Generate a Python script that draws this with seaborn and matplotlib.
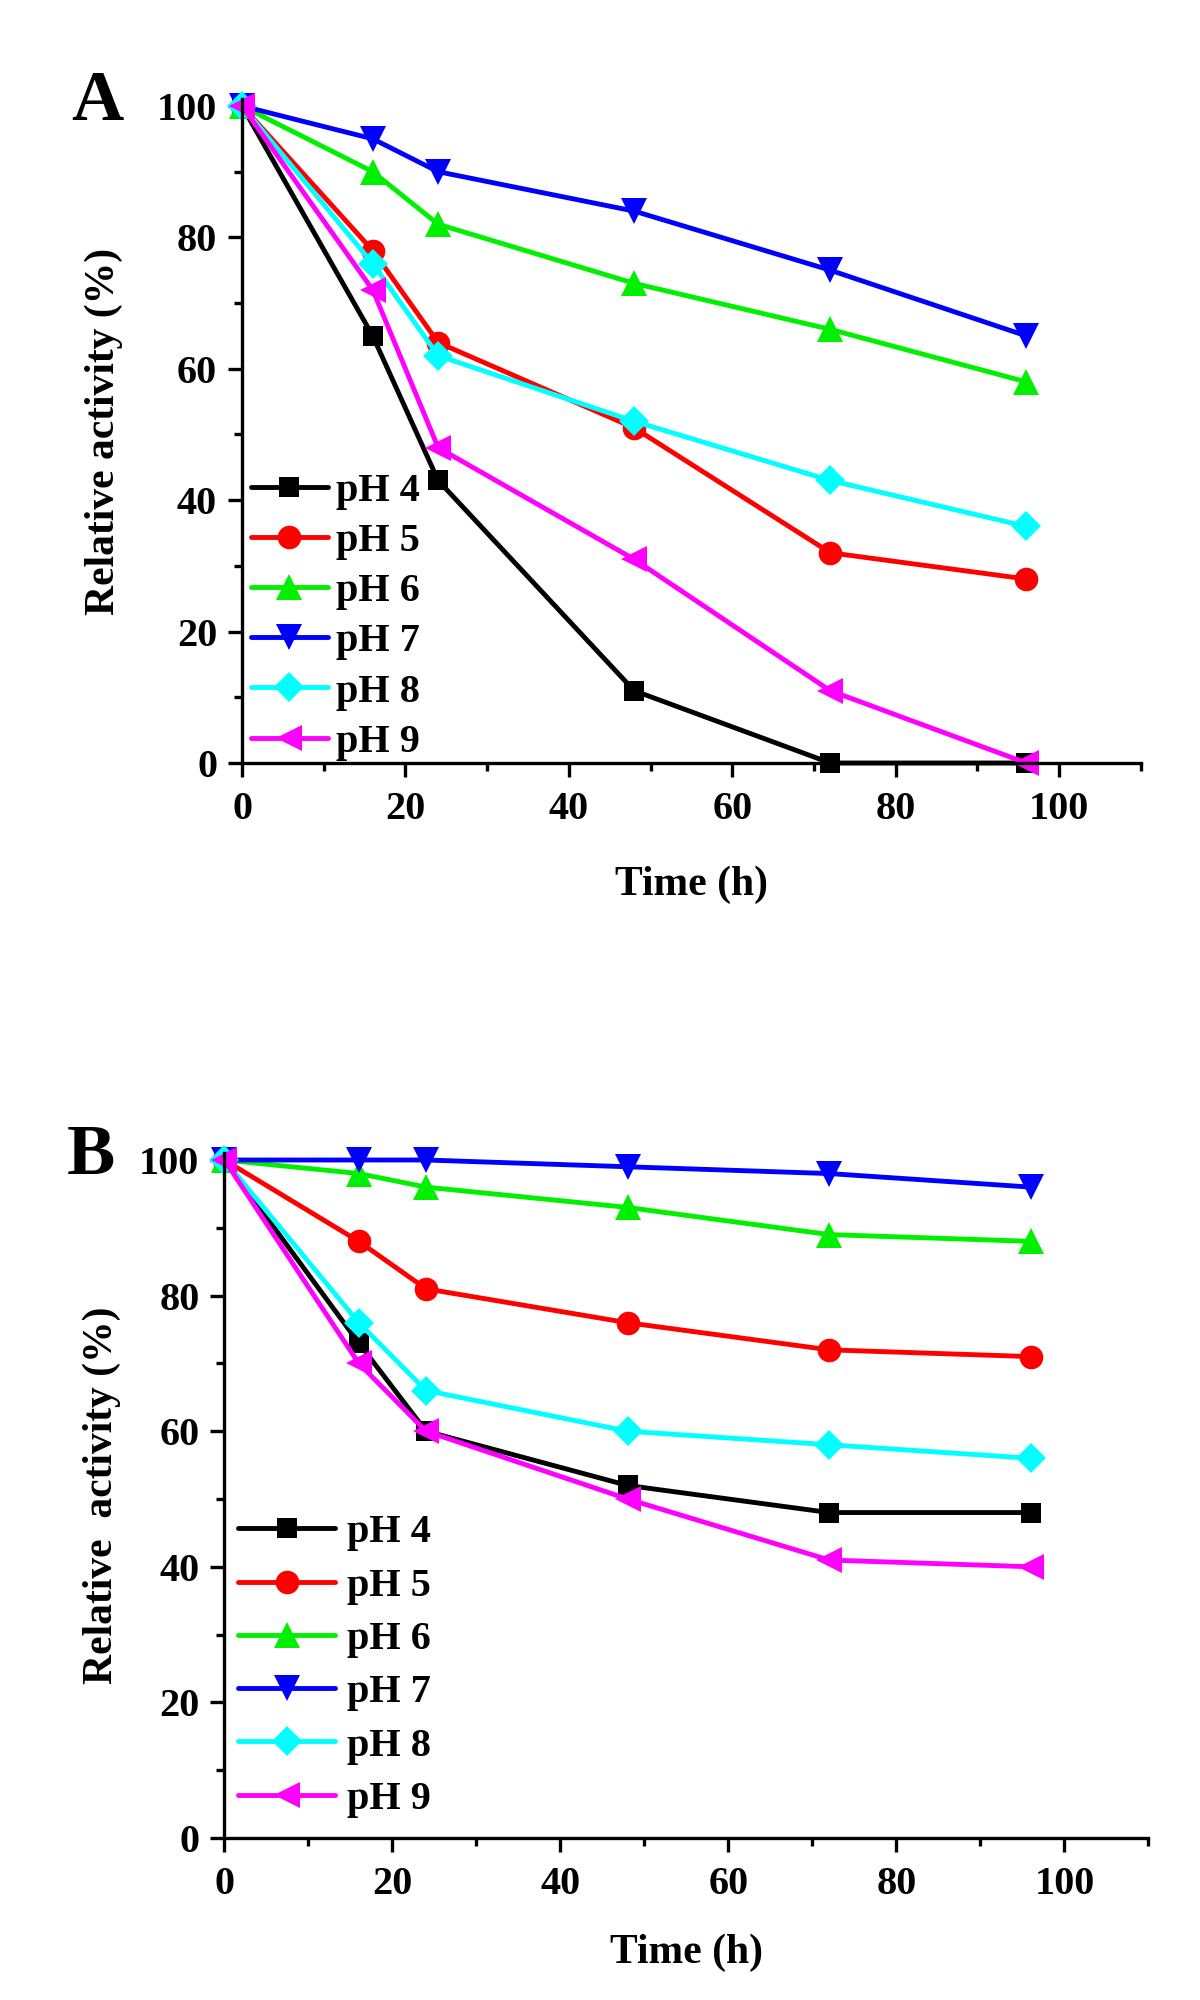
import numpy as np
import pandas as pd
import matplotlib
matplotlib.use("Agg")
import matplotlib.pyplot as plt
import seaborn as sns

# Temps d'incubation (h)
time_h = [0, 16, 24, 48, 72, 96]
ph_labels = ["pH 4", "pH 5", "pH 6", "pH 7", "pH 8", "pH 9"]

# Panel A : activité relative (%)
a_ph4 = [100, 65, 43, 11, 0, 0]
a_ph5 = [100, 78, 64, 51, 32, 28]
a_ph6 = [100, 90, 82, 73, 66, 58]
a_ph7 = [100, 95, 90, 84, 75, 65]
a_ph8 = [100, 76, 62, 52, 43, 36]
a_ph9 = [100, 72, 48, 31, 11, 0]

# Panel B : activité relative (%)
b_ph4 = [100, 73, 60, 52, 48, 48]
b_ph5 = [100, 88, 81, 76, 72, 71]
b_ph6 = [100, 98, 96, 93, 89, 88]
b_ph7 = [100, 100, 100, 99, 98, 96]
b_ph8 = [100, 76, 66, 60, 58, 56]
b_ph9 = [100, 70, 60, 50, 41, 40]

colors = ["#000000", "#FF0000", "#00F000", "#0000FF", "#00FFFF", "#FF00FF"]
markers = ["s", "o", "^", "v", "D", "<"]
# taille des marqueurs par forme (les triangles paraissent plus petits)
marker_sizes = {"s": 14, "o": 17, "^": 19, "v": 19, "D": 15, "<": 19}


def to_long(series):
    rows = []
    for lab, vals in zip(ph_labels, series):
        for t, v in zip(time_h, vals):
            rows.append({"Time": t, "Activity": v, "pH": lab})
    return pd.DataFrame(rows)


df_a = to_long([a_ph4, a_ph5, a_ph6, a_ph7, a_ph8, a_ph9])
df_b = to_long([b_ph4, b_ph5, b_ph6, b_ph7, b_ph8, b_ph9])

sns.set_style("white")
plt.rcParams["font.family"] = ["Liberation Serif", "DejaVu Serif"]
plt.rcParams["font.weight"] = "bold"
plt.rcParams["axes.labelweight"] = "bold"
for key in ["text.color", "axes.labelcolor", "xtick.color", "ytick.color"]:
    plt.rcParams[key] = "black"

fig = plt.figure(figsize=(12, 20), dpi=100)
ax_a = fig.add_axes([0.2017, 0.6185, 0.749, 0.3285 * 1.01])
ax_b = fig.add_axes([0.187, 0.081, 0.770, 0.339 * 1.01])

FS = 29


def resize_markers(lines):
    for ln in lines:
        m = ln.get_marker()
        if m in marker_sizes:
            ln.set_markersize(marker_sizes[m])
            ln.set_markeredgewidth(0)


def draw_panel(ax, df, ylabel, letter, letter_x, leg_anchor, handlelen,
               textpad, spacing, ylpad, xlpad):
    sns.lineplot(
        data=df, x="Time", y="Activity", hue="pH", style="pH",
        palette=dict(zip(ph_labels, colors)),
        markers=dict(zip(ph_labels, markers)),
        dashes=False, linewidth=3.5, markersize=15, markeredgewidth=0,
        clip_on=False, ax=ax,
    )
    resize_markers(ax.lines)
    ax.set_xlim(0, 110)
    ax.set_ylim(0, 101)
    ax.set_xticks(np.arange(0, 101, 20))
    ax.set_xticks(np.arange(10, 111, 10), minor=True)
    ax.set_yticks(np.arange(0, 101, 20))
    ax.set_yticks(np.arange(10, 100, 20), minor=True)
    for s in ["top", "right"]:
        ax.spines[s].set_visible(False)
    for s in ["left", "bottom"]:
        ax.spines[s].set_linewidth(2.4)
        ax.spines[s].set_color("black")
    ax.tick_params(which="major", direction="out", length=10, width=2.4,
                   labelsize=FS, color="black", labelcolor="black")
    ax.tick_params(which="minor", direction="out", length=6, width=2.4,
                   color="black")
    ax.tick_params(axis="y", which="both", left=True, pad=8)
    ax.tick_params(axis="x", which="both", bottom=True, pad=10)
    for lab in ax.get_xticklabels() + ax.get_yticklabels():
        lab.set_fontweight("bold")
    ax.set_xlabel("Time (h)", fontsize=30, fontweight="bold", labelpad=xlpad,
                  color="black")
    ax.set_ylabel(ylabel, fontsize=30, fontweight="bold", labelpad=ylpad,
                  color="black")

    handles, labels = ax.get_legend_handles_labels()
    leg = ax.legend(handles, labels, loc="upper left", bbox_to_anchor=leg_anchor,
                    frameon=False, handlelength=handlelen,
                    handletextpad=textpad, labelspacing=spacing,
                    borderaxespad=0, borderpad=0,
                    prop={"weight": "bold", "size": FS})
    for txt in leg.get_texts():
        txt.set_color("black")
    resize_markers(leg.get_lines())

    ax.text(letter_x, 0.995, letter, transform=ax.transAxes, fontsize=52,
            fontweight="bold", va="center", ha="center", color="black")


draw_panel(ax_a, df_a, "Relative activity (%)", "A", -0.161,
           (0.01, 0.437), 1.9, 0.22, 0.32, 24, 27)
draw_panel(ax_b, df_b, "Relative  activity (%)", "B", -0.144,
           (0.015, 0.473), 2.4, 0.3, 0.40, 13, 22)

fig.savefig("out.png", dpi=100, facecolor="white")
